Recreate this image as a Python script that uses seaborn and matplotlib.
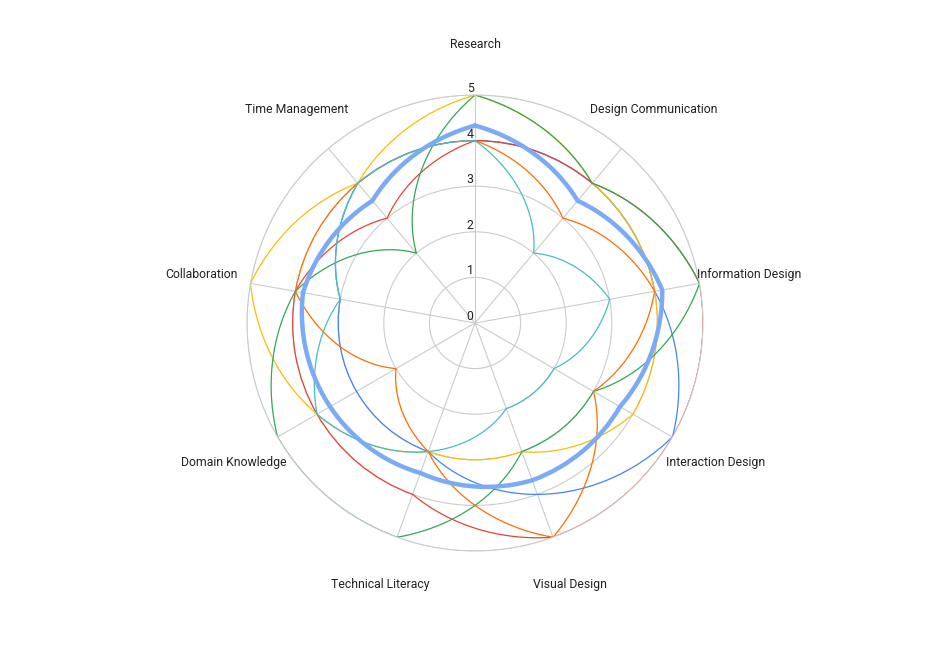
import numpy as np
import pandas as pd
import matplotlib
matplotlib.use("Agg")
import matplotlib.pyplot as plt
import seaborn as sns

categories = ["Research", "Design Communication", "Information Design",
              "Interaction Design", "Visual Design", "Technical Literacy",
              "Domain Knowledge", "Collaboration", "Time Management"]

# one list per person (0-5 scale)
person_1 = [4, 4, 4, 5, 4, 3, 3, 3, 4]
person_2 = [4, 4, 5, 5, 5, 4, 4, 4, 3]
person_3 = [5, 4, 4, 4, 3, 3, 4, 5, 4]
person_4 = [5, 4, 5, 3, 3, 5, 5, 4, 2]
person_5 = [4, 3, 4, 3, 5, 3, 2, 4, 4]
person_6 = [4, 2, 3, 2, 2, 3, 4, 3, 4]
average = [4.33, 3.5, 4.17, 3.67, 3.67, 3.5, 3.67, 3.83, 3.5]

series_names = ["Person 1", "Person 2", "Person 3", "Person 4", "Person 5", "Person 6"]
series_values = [person_1, person_2, person_3, person_4, person_5, person_6]
colors = ["#4285F4", "#EA4335", "#FBBC04", "#34A853", "#FF6D01", "#46BDC6"]
avg_color = "#7BAAF7"
rings = [0, 1, 2, 3, 4, 5]

sns.set_style("white")
plt.rcParams["font.family"] = ["Roboto", "DejaVu Sans"]

n = len(categories)
angles = np.linspace(0, 2 * np.pi, n, endpoint=False)
closed = np.append(angles, 2 * np.pi)

rows = []
for name, vals in zip(series_names, series_values):
    for a, v in zip(closed, vals + vals[:1]):
        rows.append({"theta": a, "score": v, "who": name})
df = pd.DataFrame(rows)
df_avg = pd.DataFrame({"theta": closed, "score": average + average[:1]})

fig = plt.figure(figsize=(9.45, 6.46), dpi=100)
ax = fig.add_axes([0.2614, 0.147, 0.4825, 0.706], projection="polar")
ax.set_theta_offset(np.pi / 2)
ax.set_theta_direction(-1)

sns.lineplot(data=df, x="theta", y="score", hue="who", palette=colors,
             linewidth=0.9, sort=False, legend=False, ax=ax)
sns.lineplot(data=df_avg, x="theta", y="score", color=avg_color,
             linewidth=3.2, sort=False, legend=False, ax=ax)

# segments run straight in (angle, radius) space, so they bow like the original
for line in ax.lines:
    line.get_path()._interpolation_steps = 100

ax.set_ylim(0, 5)
ax.set_xticks(angles)
ax.set_xticklabels([])
ax.set_yticks(rings[1:])
ax.set_yticklabels([])
ax.set_xlabel("")
ax.set_ylabel("")
ax.grid(True, color="#cccccc", linewidth=0.8)
ax.spines["polar"].set_color("#cccccc")
ax.spines["polar"].set_linewidth(0.8)
ax.set_axisbelow(True)

for a, name in zip(angles, categories):
    ax.text(a, 6.1, name, ha="center", va="center", fontsize=8.8,
            color="#222222", clip_on=False)

for r in rings:
    ax.annotate(str(r), xy=(0, r), xytext=(-1, 0), textcoords="offset points",
                ha="right", va="bottom", fontsize=8.8, color="#222222")

fig.savefig("out.png", dpi=100)
